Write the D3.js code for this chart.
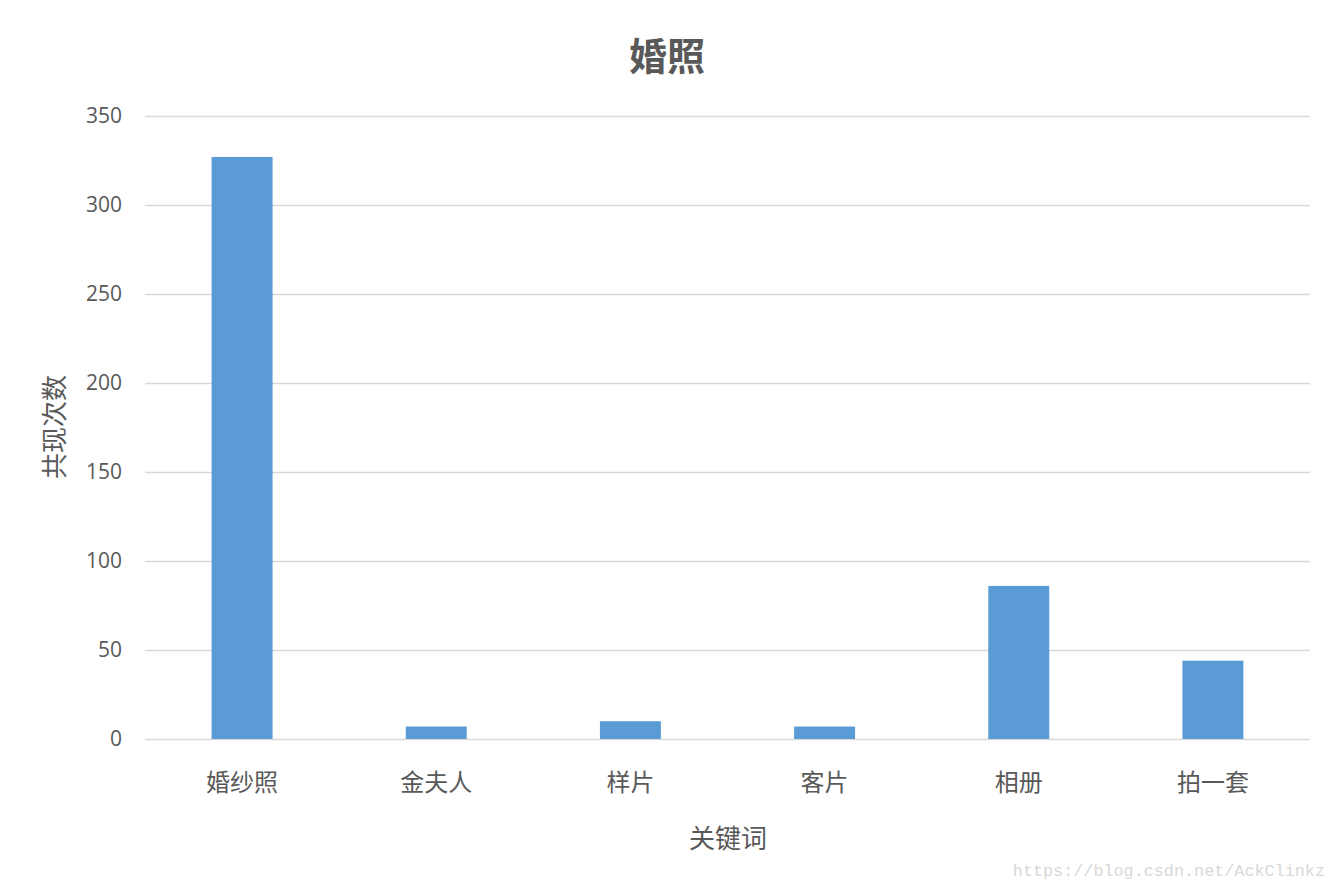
<!DOCTYPE html>
<html><head><meta charset="utf-8">
<script src="https://cdn.jsdelivr.net/npm/d3@7"></script>
<style>body{margin:0;background:#fff}svg{display:block}</style>
</head><body>
<script>
const categories = ["婚纱照","金夫人","样片","客片","相册","拍一套"];
const values = [327, 7, 10, 7, 86, 44];
const yTicks = [0,50,100,150,200,250,300,350];
const title = "婚照";
const xTitle = "关键词";
const yTitle = "共现次数";
const watermark = "https://blog.csdn.net/AckClinkz";

const W = 1334, H = 889;
const m = {left:145, right:24, top:116, bottom:150};
const svg = d3.select("body").append("svg").attr("width",W).attr("height",H);
const x = d3.scaleBand().domain(categories).range([m.left, W-m.right]).paddingInner(0.686).paddingOuter(0.343);
const y = d3.scaleLinear().domain([0,350]).range([H-m.bottom, m.top]);

const grid = svg.append("g");
grid.selectAll("line").data(yTicks).join("line")
  .attr("x1", m.left).attr("x2", W-m.right)
  .attr("y1", d=>y(d)+0.5).attr("y2", d=>y(d)+0.5)
  .attr("stroke", "#d9d9d9").attr("stroke-width", d=> d===0?1.6:1.3);

svg.append("g").selectAll("rect").data(values).join("rect")
  .attr("x", (d,i)=>x(categories[i]))
  .attr("width", x.bandwidth())
  .attr("y", d=>y(d))
  .attr("height", d=>y(0)-y(d))
  .attr("fill", "#5b9bd5");

const yAxis = svg.append("g").attr("transform",`translate(${m.left},0)`)
  .call(d3.axisLeft(y).tickValues(yTicks).tickSize(0).tickPadding(23));
yAxis.select(".domain").remove();
yAxis.selectAll("text").attr("font-family","'Open Sans', 'Noto Sans', sans-serif").attr("font-size","21px").attr("fill","#595959");

const xAxis = svg.append("g").attr("transform",`translate(0,${y(0)})`)
  .call(d3.axisBottom(x).tickSize(0).tickPadding(35));
xAxis.select(".domain").remove();
xAxis.selectAll("text").attr("font-family","'Noto Sans CJK SC', sans-serif").attr("font-size","24px").attr("fill","#595959");

svg.append("text").attr("x", 667).attr("y", 70).attr("text-anchor","middle")
  .attr("font-family","'Noto Sans CJK SC', sans-serif").attr("font-weight","bold")
  .attr("font-size","38px").attr("fill","#595959").text(title);

svg.append("text").attr("x", 728).attr("y", 848).attr("text-anchor","middle")
  .attr("font-family","'Noto Sans CJK SC', sans-serif")
  .attr("font-size","26px").attr("fill","#595959").text(xTitle);

svg.append("text").attr("transform","translate(64,427) rotate(-90)").attr("text-anchor","middle")
  .attr("font-family","'Noto Sans CJK SC', sans-serif")
  .attr("font-size","26px").attr("fill","#595959").text(yTitle);

svg.append("text").attr("x", 1325).attr("y", 876).attr("text-anchor","end")
  .attr("font-family","'Liberation Mono', monospace")
  .attr("font-size","16.8px").attr("fill","#d8d8d8").text(watermark);
</script>
</body></html>
